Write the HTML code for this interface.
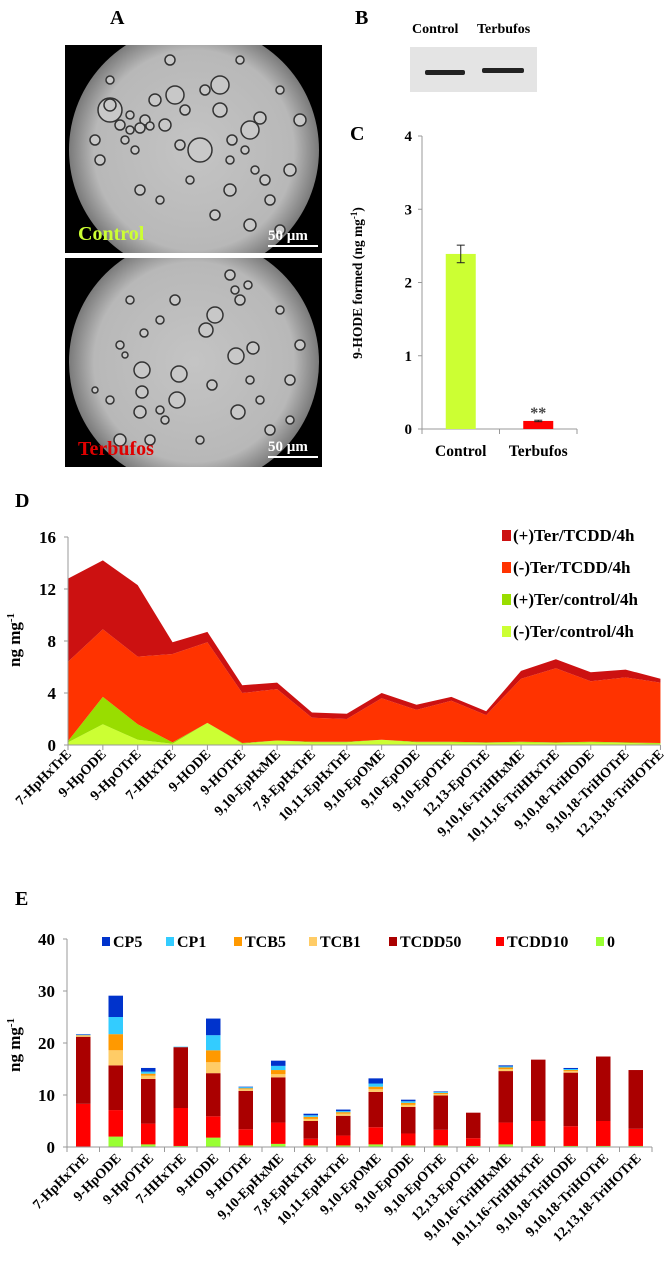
<!DOCTYPE html>
<html><head><meta charset="utf-8"><style>
body{margin:0;background:#fff;}
svg{display:block;font-family:"Liberation Serif",serif;font-weight:bold;}
</style></head><body>
<svg id="fig" width="666" height="1277" viewBox="0 0 666 1277" xmlns="http://www.w3.org/2000/svg">
<defs>
<radialGradient id="fieldG" cx="50%" cy="50%" r="50%"><stop offset="0%" stop-color="#c4c4c4"/><stop offset="80%" stop-color="#b8b8b8"/><stop offset="100%" stop-color="#7a7a7a"/></radialGradient>
<clipPath id="clipTop"><rect x="65" y="45" width="257" height="208"/></clipPath>
<clipPath id="clipBot"><rect x="65" y="258" width="257" height="209"/></clipPath>
</defs>
<text x="110" y="24" font-size="20">A</text>
<text x="355" y="24" font-size="20">B</text>
<text x="350" y="140" font-size="20">C</text>
<text x="15" y="507" font-size="20">D</text>
<text x="15" y="905" font-size="20">E</text>

<g id="micTop" clip-path="url(#clipTop)">
<rect x="65" y="45" width="257" height="208" fill="#000"/>
<circle cx="194" cy="150" r="125" fill="url(#fieldG)"/>
</g>
<g id="micBot" clip-path="url(#clipBot)">
<rect x="65" y="258" width="257" height="209" fill="#000"/>
<circle cx="194" cy="362" r="125" fill="url(#fieldG)"/>
</g>
<text x="78" y="240" font-size="20" fill="#ccff33">Control</text>
<text x="268" y="240" font-size="15" fill="#fff">50 µm</text>
<rect x="268" y="245" width="50" height="2" fill="#fff"/>
<text x="78" y="455" font-size="20" fill="#e00000">Terbufos</text>
<text x="268" y="451" font-size="15" fill="#fff">50 µm</text>
<rect x="268" y="456" width="50" height="2" fill="#fff"/>

<text x="412" y="33" font-size="14">Control</text>
<text x="477" y="33" font-size="14">Terbufos</text>
<rect x="410" y="47" width="127" height="45" fill="#e4e4e4"/>
<rect x="425" y="70" width="40" height="5" rx="2" fill="#222"/>
<rect x="482" y="68" width="42" height="5" rx="2" fill="#222"/>

<g id="chartC"></g>
<g id="chartD"></g>
<g id="chartE"></g>
</svg>
<script>
// ---------- Panel C data ----------
const cCategories = ["Control", "Terbufos"];
const cValues = [2.39, 0.11];
const cErrors = [0.12, 0.01];
const cTicks = [0, 1, 2, 3, 4];
// ---------- Panel D data ----------
const dCategories = ["7-HpHxTrE","9-HpODE","9-HpOTrE","7-HHxTrE","9-HODE","9-HOTrE","9,10-EpHxME","7,8-EpHxTrE","10,11-EpHxTrE","9,10-EpOME","9,10-EpODE","9,10-EpOTrE","12,13-EpOTrE","9,10,16-TriHHxME","10,11,16-TriHHxTrE","9,10,18-TriHODE","9,10,18-TriHOTrE","12,13,18-TriHOTrE"];
const dMinusTerControl = [0.2,1.6,0.4,0.1,1.7,0.1,0.35,0.2,0.2,0.4,0.2,0.2,0.15,0.2,0.15,0.2,0.15,0.1];
const dPlusTerControl  = [0.1,2.1,1.2,0.1,0.0,0.05,0.0,0.05,0.05,0.0,0.05,0.05,0.05,0.05,0.05,0.05,0.05,0.05];
const dMinusTerTCDD    = [6.1,5.2,5.2,6.8,6.2,3.85,3.95,1.85,1.75,3.2,2.45,3.15,2.1,4.85,5.7,4.65,5.0,4.65];
const dPlusTerTCDD     = [6.4,5.3,5.5,0.9,0.8,0.6,0.5,0.4,0.4,0.4,0.4,0.3,0.3,0.6,0.7,0.7,0.6,0.3];
const dTicks = [0,4,8,12,16];
const dSeriesNames = ["(-)Ter/control/4h","(+)Ter/control/4h","(-)Ter/TCDD/4h","(+)Ter/TCDD/4h"];
// ---------- Panel E data ----------
const eCategories = dCategories;
const eZero   = [0.1,2.0,0.5,0.2,1.8,0.3,0.6,0.3,0.3,0.5,0.3,0.3,0.2,0.5,0.2,0.2,0.2,0.2];
const eTCDD10 = [8.2,5.1,4.0,7.3,4.1,3.1,4.1,1.3,1.9,3.3,2.3,3.0,1.5,4.2,4.8,3.8,4.8,3.3];
const eTCDD50 = [12.9,8.6,8.6,11.7,8.3,7.4,8.7,3.4,3.8,6.8,5.1,6.6,4.9,9.9,11.8,10.3,12.4,11.3];
const eTCB1   = [0.2,2.9,0.6,0.0,2.1,0.3,0.6,0.4,0.4,0.5,0.4,0.3,0.0,0.4,0.0,0.3,0.0,0.0];
const eTCB5   = [0.1,3.1,0.4,0.0,2.3,0.2,0.8,0.4,0.3,0.5,0.4,0.2,0.0,0.3,0.0,0.2,0.0,0.0];
const eCP1    = [0.1,3.3,0.4,0.1,2.9,0.2,0.8,0.3,0.2,0.6,0.3,0.2,0.0,0.2,0.0,0.2,0.0,0.0];
const eCP5    = [0.1,4.1,0.7,0.0,3.2,0.1,1.0,0.3,0.3,1.0,0.3,0.1,0.0,0.2,0.0,0.2,0.0,0.0];
const eTicks = [0,10,20,30,40];
const eSeriesNames = ["0","TCDD10","TCDD50","TCB1","TCB5","CP1","CP5"];

const NS = "http://www.w3.org/2000/svg";
function mk(parent, tag, attrs, txt){
  const e = document.createElementNS(NS, tag);
  for (const k in attrs) e.setAttribute(k, attrs[k]);
  if (txt !== undefined) e.textContent = txt;
  parent.appendChild(e);
  return e;
}

// ---------- micrograph bubbles (decorative) ----------
(function(){
  const pts = [[110,110,12],[155,100,6],[175,95,9],[185,110,5],[220,85,9],[220,110,7],[250,130,9],[260,118,6],[200,150,12],[180,145,5],[100,160,5],[110,105,6],[130,115,4],[145,120,5],[165,125,6],[290,170,6],[270,200,5],[230,190,6],[215,215,5],[250,225,6],[280,230,5],[140,190,5],[160,200,4],[95,140,5],[300,120,6],[205,90,5],[230,160,4],[190,180,4],[125,140,4],[135,150,4],[120,125,5],[130,130,4],[140,128,5],[150,126,4],[232,140,5],[245,150,4],[255,170,4],[265,180,5],[170,60,5],[240,60,4],[110,80,4],[280,90,4]];
  const g = document.getElementById('micTop');
  pts.forEach(p=>{ mk(g,'circle',{cx:p[0],cy:p[1],r:p[2],fill:'#c8c8c8',stroke:'#333','stroke-width':1.5}); });
  const pts2 = [[215,315,8],[206,330,7],[142,370,8],[142,392,6],[140,412,6],[177,400,8],[179,374,8],[236,356,8],[253,348,6],[238,412,7],[212,385,5],[175,300,5],[144,333,4],[160,320,4],[260,400,4],[290,380,5],[270,430,5],[120,440,6],[150,440,5],[200,440,4],[280,310,4],[300,345,5],[110,400,4],[130,300,4],[240,300,5],[235,290,4],[230,275,5],[248,285,4],[120,345,4],[125,355,3],[160,410,4],[165,420,4],[250,380,4],[95,390,3],[290,420,4]];
  const g2 = document.getElementById('micBot');
  pts2.forEach(p=>{ mk(g2,'circle',{cx:p[0],cy:p[1],r:p[2],fill:'#c8c8c8',stroke:'#333','stroke-width':1.5}); });
})();

// ---------- Panel C ----------
(function(){
  const g = document.getElementById('chartC');
  const x0 = 422, x1 = 577, yTop = 136, yBot = 429, vmax = 4;
  const y = v => yBot - v/vmax*(yBot-yTop);
  const band = (x1-x0)/cCategories.length;
  const xc = i => x0 + band*(i+0.5);
  const ax = mk(g,'line',{x1:x0,y1:yTop,x2:x0,y2:yBot,stroke:'#999','stroke-width':1});
  
  
  const xa = mk(g,'line',{x1:x0,y1:yBot,x2:x1,y2:yBot,stroke:'#999','stroke-width':1});
  
  
  cTicks.forEach(t=>{
    mk(g,'line',{x1:x0-4,y1:y(t),x2:x0,y2:y(t),stroke:'#999'});
    const tl = mk(g,'text',{x:x0-10,y:y(t)+5,'font-size':15,'text-anchor':'end'},String(t));
    
    
  });
  for (let i=0;i<=cCategories.length;i++) mk(g,'line',{x1:x0+band*i,y1:yBot,x2:x0+band*i,y2:yBot+5,stroke:'#999'});
  const cols = ['#ccff33','#ff0000'];
  cCategories.forEach((c,i)=>{
    const bw = 30;
    const b = mk(g,'rect',{x:xc(i)-bw/2,y:y(cValues[i]),width:bw,height:yBot-y(cValues[i]),fill:cols[i]});
    
    
    const e1=y(cValues[i]+cErrors[i]), e2=y(cValues[i]-cErrors[i]);
    mk(g,'line',{x1:xc(i),y1:e1,x2:xc(i),y2:e2,stroke:'#222'});
    mk(g,'line',{x1:xc(i)-4,y1:e1,x2:xc(i)+4,y2:e1,stroke:'#222'});
    mk(g,'line',{x1:xc(i)-4,y1:e2,x2:xc(i)+4,y2:e2,stroke:'#222'});
    const l = mk(g,'text',{x:xc(i),y:yBot+27,'font-size':15.5,'text-anchor':'middle'},c);
    
    
  });
  const st = mk(g,'text',{x:xc(1),y:y(cValues[1])-3,'font-size':16,'text-anchor':'middle',fill:'#444'},'**');
  
  
  const yt = mk(g,'text',{x:0,y:0,'font-size':13.5,'text-anchor':'middle',transform:'translate(362,283) rotate(-90)'});
  
  
  yt.innerHTML = '9-HODE formed (ng mg<tspan dy="-5" font-size="9">-1</tspan><tspan dy="5">)</tspan>';
})();

// ---------- Panel D ----------
(function(){
  const g = document.getElementById('chartD');
  const x0 = 68, step = 34.85, yTop = 537, yBot = 745, vmax = 16;
  const y = v => yBot - v/vmax*(yBot-yTop);
  const x = i => x0 + step*i;
  const series = [dMinusTerControl, dPlusTerControl, dMinusTerTCDD, dPlusTerTCDD];
  const cols = ['#ccff33','#99dd00','#ff3300','#cc1111'];
  const n = dCategories.length;
  let base = new Array(n).fill(0);
  series.forEach((s,k)=>{
    const top = base.map((b,i)=>b+s[i]);
    let d = 'M'+x(0)+','+y(top[0]);
    for (let i=1;i<n;i++) d+=' L'+x(i)+','+y(top[i]);
    for (let i=n-1;i>=0;i--) d+=' L'+x(i)+','+y(base[i]);
    d+='Z';
    const p = mk(g,'path',{d:d,fill:cols[k]});
    
    
    base = top;
  });
  const ax = mk(g,'line',{x1:x0,y1:yTop,x2:x0,y2:yBot,stroke:'#999'});
  
  
  const xa = mk(g,'line',{x1:x0,y1:yBot,x2:x(n-1),y2:yBot,stroke:'#999'});
  
  
  dTicks.forEach(t=>{
    mk(g,'line',{x1:x0-4,y1:y(t),x2:x0,y2:y(t),stroke:'#999'});
    const tl = mk(g,'text',{x:x0-12,y:y(t)+6,'font-size':17,'text-anchor':'end'},String(t));
    
    
  });
  dCategories.forEach((c,i)=>{
    mk(g,'line',{x1:x(i),y1:yBot,x2:x(i),y2:yBot+5,stroke:'#999'});
    const l = mk(g,'text',{x:0,y:0,'font-size':14,'text-anchor':'end',transform:'translate('+(x(i)+4)+','+(yBot+10)+') rotate(-45)'},c);
    
    
  });
  const yt = mk(g,'text',{x:0,y:0,'font-size':17,'text-anchor':'middle',transform:'translate(20,640) rotate(-90)'});
  
  
  yt.innerHTML = 'ng mg<tspan dy="-6" font-size="11">-1</tspan>';
  const order = [3,2,1,0];
  order.forEach((k,j)=>{
    const ly = 538 + j*32;
    const sw = mk(g,'rect',{x:502,y:ly-8,width:9,height:11,fill:cols[k]});
    
    
    const lt = mk(g,'text',{x:513,y:ly+3,'font-size':17},dSeriesNames[k]);
    
    
  });
})();

// ---------- Panel E ----------
(function(){
  const g = document.getElementById('chartE');
  const x0 = 67, band = 32.5, yTop = 939, yBot = 1147, vmax = 40, bw = 14.5;
  const y = v => yBot - v/vmax*(yBot-yTop);
  const xc = i => x0 + band*(i+0.5);
  const series = [eZero,eTCDD10,eTCDD50,eTCB1,eTCB5,eCP1,eCP5];
  const cols = ['#99ff33','#ff0000','#aa0000','#ffcc66','#ff9900','#33ccff','#0033cc'];
  const n = eCategories.length;
  let base = new Array(n).fill(0);
  series.forEach((s,k)=>{
    for (let i=0;i<n;i++){
      if (s[i] <= 0) continue;
      const r = mk(g,'rect',{x:xc(i)-bw/2,y:y(base[i]+s[i]),width:bw,height:y(base[i])-y(base[i]+s[i]),fill:cols[k]});
      
      
    }
    base = base.map((b,i)=>b+s[i]);
  });
  const ax = mk(g,'line',{x1:x0,y1:yTop,x2:x0,y2:yBot,stroke:'#999'});
  
  
  const xa = mk(g,'line',{x1:x0,y1:yBot,x2:x0+band*n,y2:yBot,stroke:'#999'});
  
  
  eTicks.forEach(t=>{
    mk(g,'line',{x1:x0-4,y1:y(t),x2:x0,y2:y(t),stroke:'#999'});
    const tl = mk(g,'text',{x:x0-12,y:y(t)+6,'font-size':17,'text-anchor':'end'},String(t));
    
    
  });
  for (let i=0;i<=n;i++) mk(g,'line',{x1:x0+band*i,y1:yBot,x2:x0+band*i,y2:yBot+5,stroke:'#999'});
  eCategories.forEach((c,i)=>{
    const l = mk(g,'text',{x:0,y:0,'font-size':14,'text-anchor':'end',transform:'translate('+(xc(i)+6)+','+(yBot+12)+') rotate(-45)'},c);
    
    
  });
  const yt = mk(g,'text',{x:0,y:0,'font-size':17,'text-anchor':'middle',transform:'translate(20,1045) rotate(-90)'});
  
  
  yt.innerHTML = 'ng mg<tspan dy="-6" font-size="11">-1</tspan>';
  const legX = [102,166,234,309,389,496,596];
  const legOrder = [6,5,4,3,2,1,0];
  legOrder.forEach((k,j)=>{
    const sw = mk(g,'rect',{x:legX[j],y:937,width:8,height:9,fill:cols[k]});
    
    
    const lt = mk(g,'text',{x:legX[j]+11,y:947,'font-size':16},eSeriesNames[k]);
    
    
  });
})();
</script>
</body></html>
